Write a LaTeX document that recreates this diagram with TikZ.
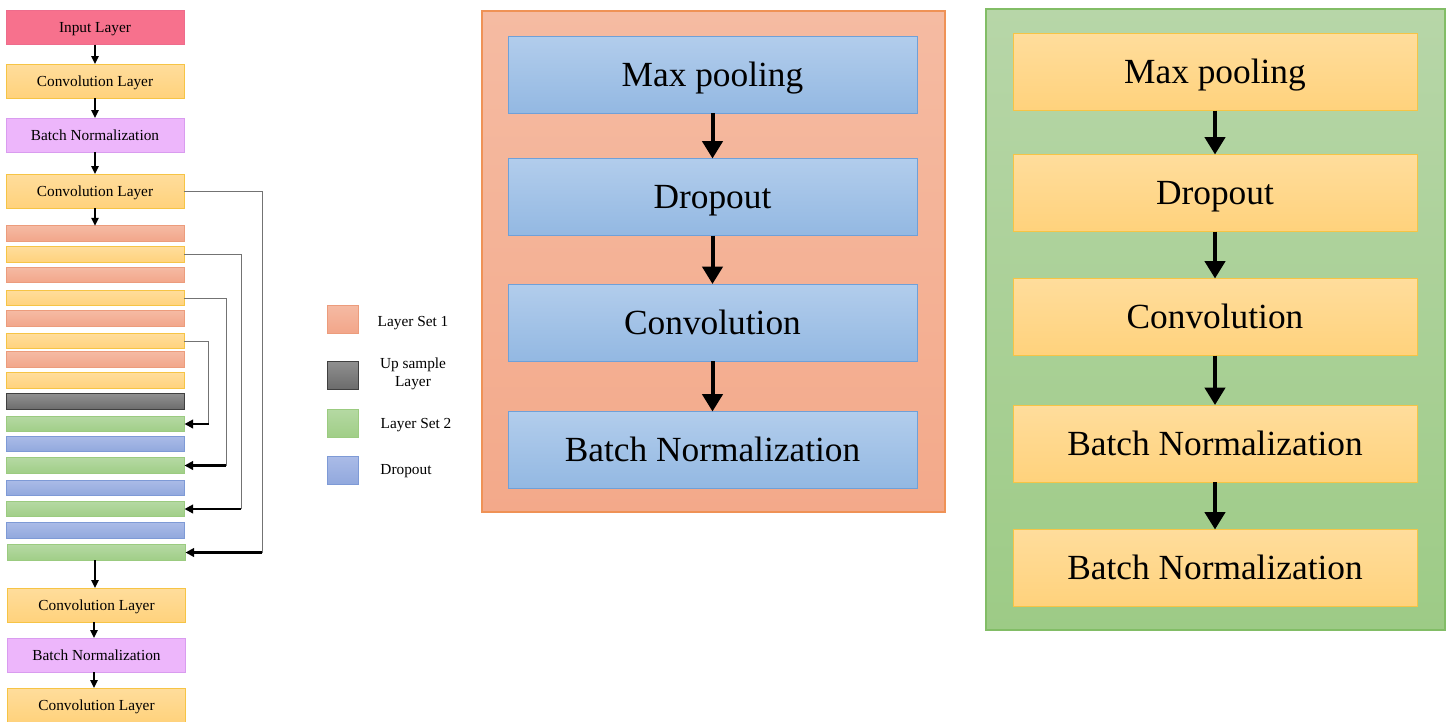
\documentclass[tikz,border=0pt]{standalone}
\usepackage{fontspec}
\setmainfont{Liberation Serif}
\usetikzlibrary{arrows.meta}
\definecolor{inpF}{HTML}{F7718D}
\definecolor{inpD}{HTML}{EE6C8C}
\definecolor{yelT}{HTML}{FFDD9C}
\definecolor{yelB}{HTML}{FFD27C}
\definecolor{yelD}{HTML}{F6C445}
\definecolor{purF}{HTML}{EDB6FB}
\definecolor{purD}{HTML}{D99CEF}
\definecolor{salT}{HTML}{F5BAA3}
\definecolor{salB}{HTML}{F2A68A}
\definecolor{salD}{HTML}{EC9C7C}
\definecolor{gryT}{HTML}{909090}
\definecolor{gryB}{HTML}{6C6C6C}
\definecolor{gryD}{HTML}{404040}
\definecolor{grnT}{HTML}{B5D9A3}
\definecolor{grnB}{HTML}{A0CE87}
\definecolor{grnD}{HTML}{9BCB80}
\definecolor{bluT}{HTML}{AABBE7}
\definecolor{bluB}{HTML}{91A8DD}
\definecolor{bluD}{HTML}{7E9AD6}
\definecolor{pnlOT}{HTML}{F5BBA2}
\definecolor{pnlOB}{HTML}{F3A98A}
\definecolor{pnlOD}{HTML}{EF9256}
\definecolor{mbT}{HTML}{B2CDEC}
\definecolor{mbB}{HTML}{93B8E2}
\definecolor{mbD}{HTML}{6FA0D8}
\definecolor{pnlGT}{HTML}{B7D6A8}
\definecolor{pnlGB}{HTML}{9DCB86}
\definecolor{pnlGD}{HTML}{82BD66}
\begin{document}
\begin{tikzpicture}[x=0.75pt,y=-0.75pt,
  every node/.style={inner sep=0pt,outer sep=0pt},
  smallcap/.style={text height=7.6pt,text depth=0pt},
  bigcap/.style={text height=17.5pt,text depth=0pt},
  smallfont/.style={font=\fontsize{11.5}{13.5}\selectfont},
  bigfont/.style={font=\fontsize{26.5}{30}\selectfont},
  lbox/.style={smallfont,smallcap,minimum width=133.5pt,minimum height=25.5pt,line width=0.6pt},
  strip/.style={minimum width=133.5pt,minimum height=11.6pt,line width=0.6pt},
  inpbox/.style={lbox,fill=inpF,draw=inpD},
  convbox/.style={lbox,top color=yelT,bottom color=yelB,draw=yelD},
  bnbox/.style={lbox,fill=purF,draw=purD},
  salstrip/.style={strip,top color=salT,bottom color=salB,draw=salD},
  yelstrip/.style={strip,top color=yelT,bottom color=yelB,draw=yelD},
  grystrip/.style={strip,top color=gryT,bottom color=gryB,draw=gryD},
  grnstrip/.style={strip,top color=grnT,bottom color=grnB,draw=grnD},
  blustrip/.style={strip,top color=bluT,bottom color=bluB,draw=bluD},
  legsq/.style={minimum width=23.25pt,minimum height=21pt,line width=0.6pt},
  legtxt/.style={smallfont,align=center},
  midbox/.style={bigfont,bigcap,minimum width=306.75pt,minimum height=57.75pt,top color=mbT,bottom color=mbB,draw=mbD,line width=0.6pt},
  rgtbox/.style={bigfont,bigcap,minimum width=303pt,minimum height=57.75pt,top color=yelT,bottom color=yelB,draw=yelD,line width=0.6pt},
  smallarrow/.style={line width=1.1pt,-{Triangle[length=6pt,width=5.5pt]}},
  skipline/.style={line width=0.6pt,draw=gray!90!black},
  skiparrow/.style={line width=1.6pt,-{Triangle[length=6.5pt,width=6.5pt]}},
  bigarrow/.style={line width=3pt,-{Triangle[length=13pt,width=15pt]}}
]
\useasboundingbox (0,0) rectangle (1449,721);

% ---------- left column ----------
\node[inpbox]  (in)  at (95,27.5) {Input Layer};
\node[convbox] (c1)  at (95,81)   {Convolution Layer};
\node[bnbox]   (bn1) at (95,135)  {Batch Normalization};
\node[convbox] (c2)  at (95,191)  {Convolution Layer};

\node[salstrip] (s1) at (95,233.5) {};
\node[yelstrip] (y1) at (95,254.5) {};
\node[salstrip] (s2) at (95,275) {};
\node[yelstrip] (y2) at (95,298) {};
\node[salstrip] (s3) at (95,318.5) {};
\node[yelstrip] (y3) at (95,341) {};
\node[salstrip] (s4) at (95,359.5) {};
\node[yelstrip] (y4) at (95,380.5) {};
\node[grystrip] (gr) at (95.5,401.5) {};
\node[grnstrip] (g1) at (95.5,424) {};
\node[blustrip] (b1) at (95.5,444) {};
\node[grnstrip] (g2) at (95.5,465.5) {};
\node[blustrip] (b2) at (95.5,488) {};
\node[grnstrip] (g3) at (95.5,509) {};
\node[blustrip] (b3) at (95.5,530.5) {};
\node[grnstrip] (g4) at (96.5,552.5) {};

\node[convbox] (c3)  at (96.5,605) {Convolution Layer};
\node[bnbox]   (bn2) at (96.5,655) {Batch Normalization};
\node[convbox] (c4)  at (96.5,705) {Convolution Layer};

\draw[smallarrow] (in.south -| 95,0) -- (c1.north -| 95,0);
\draw[smallarrow] (c1.south -| 95,0) -- (bn1.north -| 95,0);
\draw[smallarrow] (bn1.south -| 95,0) -- (c2.north -| 95,0);
\draw[smallarrow] (c2.south -| 95,0) -- (s1.north -| 95,0);
\draw[smallarrow] (g4.south -| 95,0) -- (c3.north -| 95,0);
\draw[smallarrow] (c3.south -| 94,0) -- (bn2.north -| 94,0);
\draw[smallarrow] (bn2.south -| 94,0) -- (c4.north -| 94,0);

% skip connections
\coordinate (k4) at (262,552.5);
\coordinate (k3) at (241,509);
\coordinate (k2) at (226,465.5);
\coordinate (k1) at (208.5,424);
\draw[skipline] (c2.east) -| (k4);
\draw[skipline] (y1.east) -| (k3);
\draw[skipline] (y2.east) -| (k2);
\draw[skipline] (y3.east) -| (k1);
\draw[skiparrow] (k4) -- (g4.east);
\draw[skiparrow] (k3) -- (g3.east);
\draw[skiparrow] (k2) -- (g2.east);
\draw[skiparrow] (k1) -- (g1.east);

% ---------- legend ----------
\node[legsq,top color=salT,bottom color=salB,draw=salD] (l1) at (342.5,319) {};
\node[legsq,top color=gryT,bottom color=gryB,draw=gryD] (l2) at (342.5,375) {};
\node[legsq,top color=grnT,bottom color=grnB,draw=grnD] (l3) at (342.5,423) {};
\node[legsq,top color=bluT,bottom color=bluB,draw=bluD] (l4) at (342.5,470.5) {};
\node[legtxt,smallcap] (t1) at (413,321) {Layer Set 1};
\node[legtxt] (t2) at (413,374) {Up sample\\Layer};
\node[legtxt,smallcap] (t3) at (416,423) {Layer Set 2};
\node[legtxt,smallcap] (t4) at (406,469) {Dropout};

% ---------- middle panel ----------
\node[minimum width=347.25pt,minimum height=375.75pt,top color=pnlOT,bottom color=pnlOB,draw=pnlOD,line width=0.9pt] (pm) at (713.5,261.5) {};
\node[midbox] (m1) at (712.5,74.5) {Max pooling};
\node[midbox] (m2) at (712.5,197)  {Dropout};
\node[midbox] (m3) at (712.5,322.5){Convolution};
\node[midbox] (m4) at (712.5,450)  {Batch Normalization};
\draw[bigarrow] (m1) -- (m2);
\draw[bigarrow] (m2) -- (m3);
\draw[bigarrow] (m3) -- (m4);

% ---------- right panel ----------
\node[minimum width=344.25pt,minimum height=465.75pt,top color=pnlGT,bottom color=pnlGB,draw=pnlGD,line width=0.9pt] (pg) at (1215.5,319.5) {};
\node[rgtbox] (r1) at (1215,72)    {Max pooling};
\node[rgtbox] (r2) at (1215,193)   {Dropout};
\node[rgtbox] (r3) at (1215,317)   {Convolution};
\node[rgtbox] (r4) at (1215,443.5) {Batch Normalization};
\node[rgtbox] (r5) at (1215,568)   {Batch Normalization};
\draw[bigarrow] (r1) -- (r2);
\draw[bigarrow] (r2) -- (r3);
\draw[bigarrow] (r3) -- (r4);
\draw[bigarrow] (r4) -- (r5);
\end{tikzpicture}
\end{document}
